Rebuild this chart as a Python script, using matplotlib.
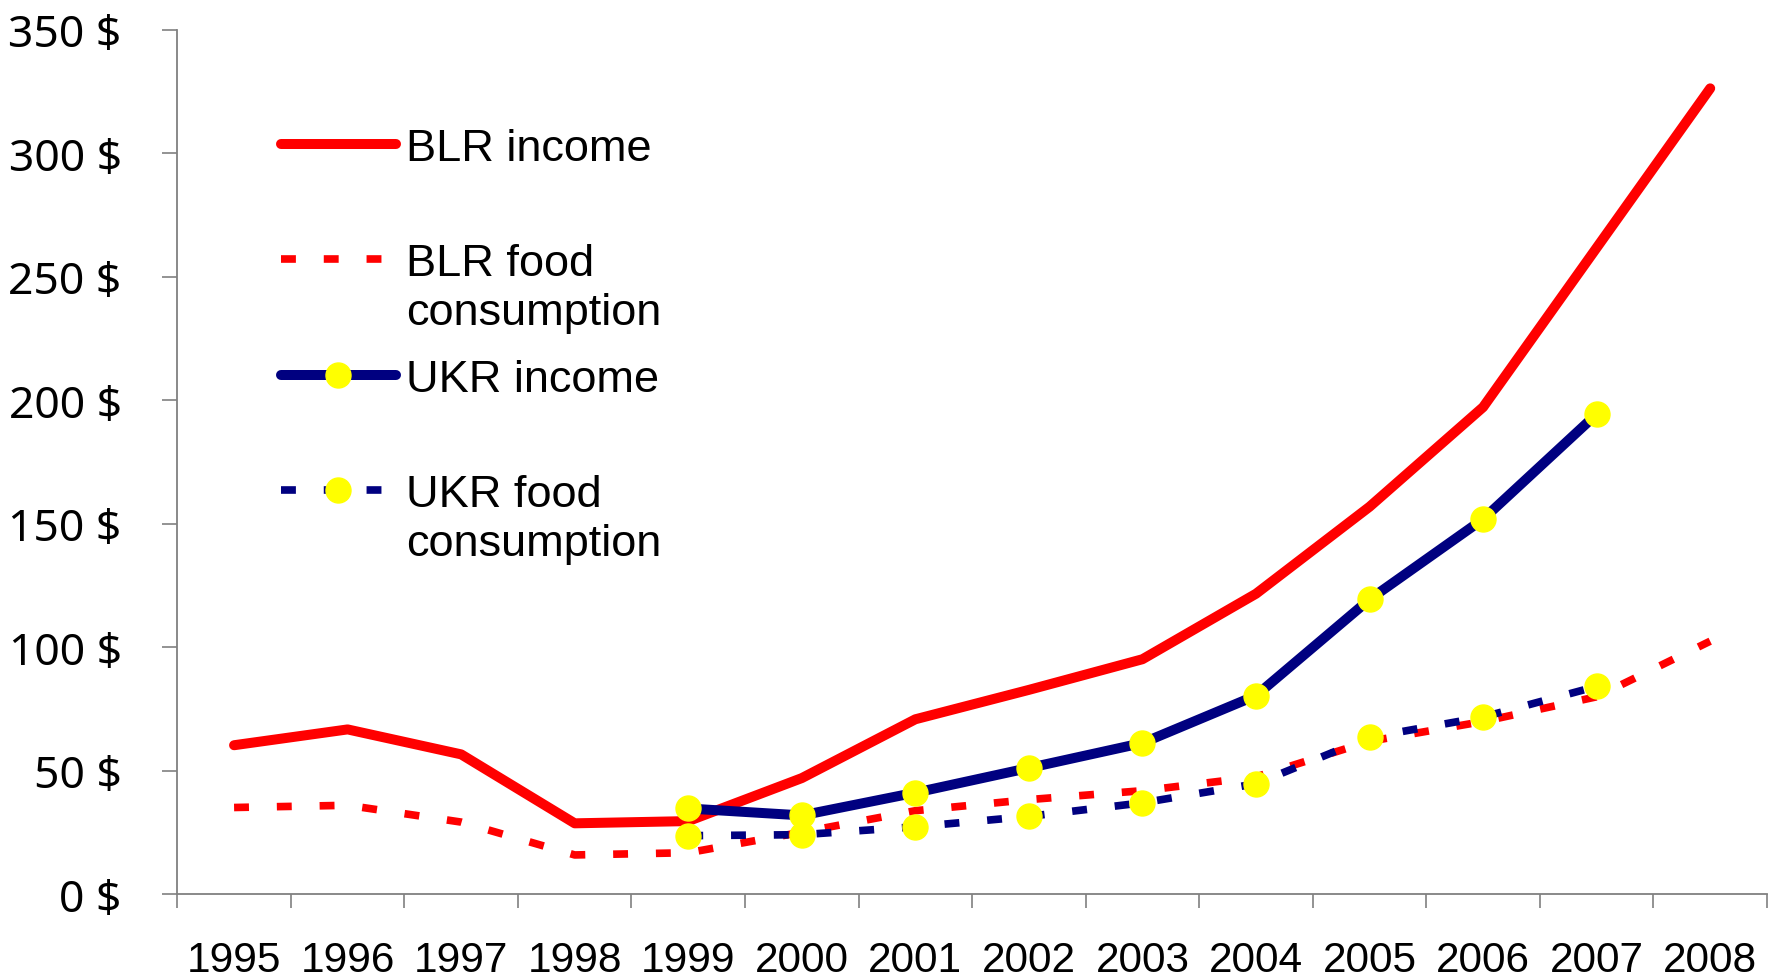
import matplotlib
matplotlib.use("Agg")
import matplotlib.pyplot as plt
import numpy as np

# Data
years = ["1995", "1996", "1997", "1998", "1999", "2000", "2001",
         "2002", "2003", "2004", "2005", "2006", "2007", "2008"]
blr_income = [60.4, 66.8, 56.7, 28.8, 29.7, 47.1, 70.9, 82.8, 95.2, 121.7, 156.9, 197.2, 261.7, 326.2]
blr_food = [35.2, 36.1, 29.3, 16.0, 16.9, 25.2, 33.9, 38.4, 42.0, 47.6, 62.0, 70.0, 80.0, 102.5]
ukr_income = [np.nan, np.nan, np.nan, np.nan, 34.8, 32.0, 41.2, 51.2, 61.3, 80.5, 119.4, 151.9, 194.4, np.nan]
ukr_food = [np.nan, np.nan, np.nan, np.nan, 23.8, 24.2, 27.4, 31.6, 37.1, 44.8, 63.6, 71.8, 84.2, np.nan]
labels = ["BLR income\n", "BLR food\nconsumption", "UKR income\n", "UKR food\nconsumption"]

plt.rcParams['font.family'] = ['Liberation Sans', 'DejaVu Sans']

fig = plt.figure(figsize=(17.73, 9.79), dpi=100)
ax = fig.add_axes([0.100, 0.0853, 0.8966, 0.8835])

x = np.arange(len(years))
red = "#FF0000"
navy = "#000080"
yellow = "#FFFF00"
dash = (1.95, 3.65)

h1, = ax.plot(x, blr_income, color=red, lw=7.2, solid_capstyle='round', solid_joinstyle='round')
h2, = ax.plot(x, blr_food, color=red, lw=5.5, dashes=dash, dash_capstyle='butt')
h3, = ax.plot(x, ukr_income, color=navy, lw=7.2, solid_capstyle='round', solid_joinstyle='round',
              marker='o', ms=18, mfc=yellow, mec=yellow)
h4, = ax.plot(x, ukr_food, color=navy, lw=5.5, dashes=dash, dash_capstyle='butt',
              marker='o', ms=18, mfc=yellow, mec=yellow)

ax.set_xlim(-0.5, len(years) - 0.5)
ax.set_ylim(0, 350)
ax.set_yticks(np.arange(0, 351, 50))
ax.set_yticklabels([f"{v} $" for v in range(0, 351, 50)], family=['Noto Sans', 'DejaVu Sans'])
ax.set_xticks(np.arange(-0.5, len(years), 1))
ax.set_xticklabels([])
ax.set_xticks(x, minor=True)
ax.set_xticklabels(years, minor=True)

for s in ['top', 'right']:
    ax.spines[s].set_visible(False)
for s in ['left', 'bottom']:
    ax.spines[s].set_color('#808080')
    ax.spines[s].set_linewidth(1.3)

ax.tick_params(axis='y', which='major', length=11, width=1.2, color='#808080', pad=29, labelsize=32)
ax.tick_params(axis='x', which='major', length=10, width=1.2, color='#808080')
ax.tick_params(axis='x', which='minor', length=0, pad=33, labelsize=30.5)

leg = ax.legend([h1, h2, h3, h4], labels, loc='upper left', bbox_to_anchor=(0.0651, 0.886),
                frameon=False, fontsize=32.5, handlelength=2.55, handletextpad=0.22,
                labelspacing=0.56, borderpad=0, borderaxespad=0)
for t in leg.get_texts():
    t.set_linespacing(1.25)
# keep the key next to the first line of each label
for col in leg._legend_handle_box.get_children():
    for row in col.get_children():
        row.align = 'top'

fig.savefig("out.png", dpi=100)
